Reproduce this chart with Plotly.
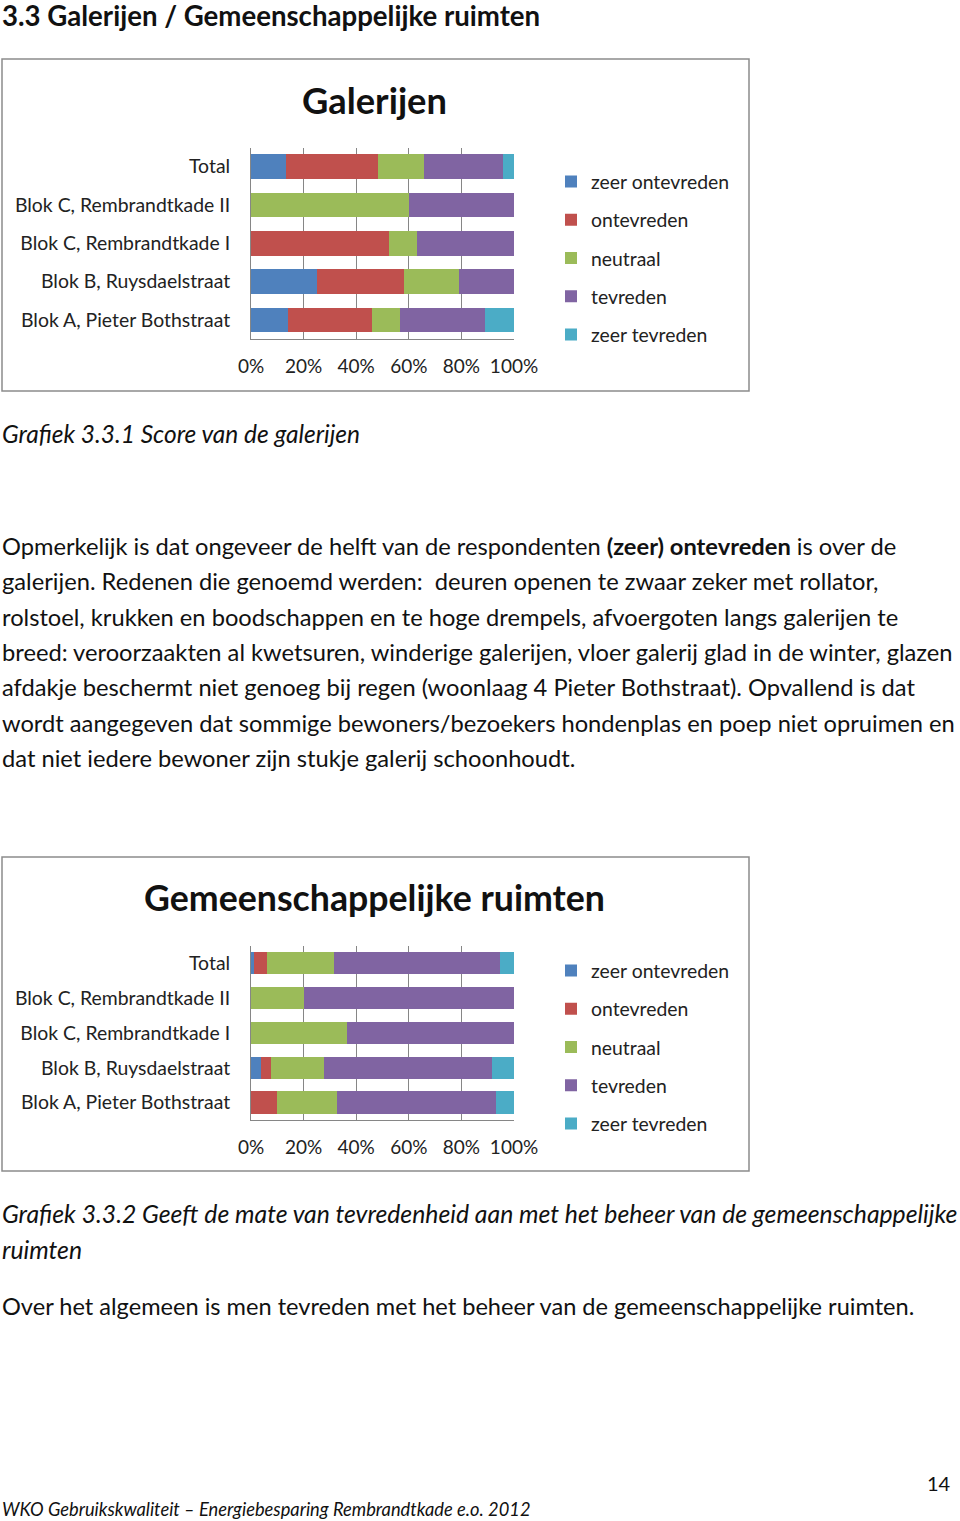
import plotly.graph_objects as go

# ---------------- data ----------------
categories = ["Total", "Blok C, Rembrandtkade II", "Blok C, Rembrandtkade I",
              "Blok B, Ruysdaelstraat", "Blok A, Pieter Bothstraat"]
series_names = ["zeer ontevreden", "ontevreden", "neutraal", "tevreden", "zeer tevreden"]
colors = ["#4F81BD", "#C0504D", "#9BBB59", "#8064A2", "#4BACC6"]

# Galerijen (percent per category, top to bottom)
gal_zeer_ontevreden = [13.2, 0.0, 0.0, 25.0, 14.2]
gal_ontevreden = [35.1, 0.0, 52.6, 33.0, 31.8]
gal_neutraal = [17.4, 60.0, 10.5, 21.0, 10.8]
gal_tevreden = [30.2, 40.0, 36.9, 21.0, 32.3]
gal_zeer_tevreden = [4.1, 0.0, 0.0, 0.0, 10.9]

# Gemeenschappelijke ruimten
gem_zeer_ontevreden = [1.3, 0.0, 0.0, 3.8, 0.0]
gem_ontevreden = [4.8, 0.0, 0.0, 3.9, 9.9]
gem_neutraal = [25.3, 20.0, 36.5, 19.9, 22.9]
gem_tevreden = [63.3, 80.0, 63.5, 64.0, 60.2]
gem_zeer_tevreden = [5.3, 0.0, 0.0, 8.4, 7.0]

tick_vals = [0, 20, 40, 60, 80, 100]
tick_text = ["0%", "20%", "40%", "60%", "80%", "100%"]

W, H = 960, 1521
FONT = "Lato"


def px(x):
    return x / W


def py(y):
    return 1 - y / H


fig = go.Figure()

gal = [gal_zeer_ontevreden, gal_ontevreden, gal_neutraal, gal_tevreden, gal_zeer_tevreden]
gem = [gem_zeer_ontevreden, gem_ontevreden, gem_neutraal, gem_tevreden, gem_zeer_tevreden]

for i, (name, vals) in enumerate(zip(series_names, gal)):
    fig.add_trace(go.Bar(y=categories, x=vals, name=name, orientation="h",
                         marker=dict(color=colors[i], line=dict(width=0)),
                         xaxis="x", yaxis="y", legend="legend", legendgroup="g1_" + str(i),
                         hoverinfo="skip"))
for i, (name, vals) in enumerate(zip(series_names, gem)):
    fig.add_trace(go.Bar(y=categories, x=vals, name=name, orientation="h",
                         marker=dict(color=colors[i], line=dict(width=0)),
                         xaxis="x2", yaxis="y2", legend="legend2", legendgroup="g2_" + str(i),
                         hoverinfo="skip"))

axis_common_x = dict(range=[0, 100], tickvals=tick_vals, ticktext=tick_text,
                     showgrid=True, gridcolor="#868686", gridwidth=1,
                     showline=True, linecolor="#868686", linewidth=1,
                     ticks="outside", ticklen=10, tickcolor="rgba(0,0,0,0)",
                     tickfont=dict(family=FONT, size=19, color="#222"), zeroline=False,
                     fixedrange=True, automargin=False)
axis_common_y = dict(type="category", autorange="reversed",
                     showline=True, linecolor="#868686", linewidth=1,
                     ticks="outside", ticklen=16, tickcolor="rgba(0,0,0,0)",
                     tickfont=dict(family=FONT, size=19.4, color="#222"),
                     showgrid=False, fixedrange=True, automargin=False)

legend_common = dict(font=dict(family=FONT, size=19.4, color="#222"), bgcolor="rgba(0,0,0,0)",
                     traceorder="grouped", tracegroupgap=10, xanchor="left", yanchor="top",
                     itemwidth=30)

fig.update_layout(
    width=W, height=H, margin=dict(l=0, r=0, t=0, b=0, autoexpand=False),
    paper_bgcolor="white", plot_bgcolor="white",
    barmode="stack", bargap=0.36, showlegend=True,
    xaxis=dict(domain=[px(251), px(514)], anchor="y", **axis_common_x),
    yaxis=dict(domain=[py(339.2), py(147.5)], anchor="x", **axis_common_y),
    xaxis2=dict(domain=[px(251), px(514)], anchor="y2", **axis_common_x),
    yaxis2=dict(domain=[py(1120), py(945.8)], anchor="x2", **axis_common_y),
    legend=dict(x=px(551), y=py(162.5), **legend_common),
    legend2=dict(x=px(551), y=py(951.5), **legend_common),
)

# chart frames
for (y0, y1) in [(59, 391), (857, 1171)]:
    fig.add_shape(type="rect", xref="paper", yref="paper",
                  x0=px(2), x1=px(749), y0=py(y1), y1=py(y0),
                  line=dict(color="#8C8C8C", width=1.5), fillcolor="rgba(0,0,0,0)", layer="below")


def text(x, y, s, size, bold=False, italic=False, xanchor="left"):
    if bold:
        s = "<b>" + s + "</b>"
    if italic:
        s = "<i>" + s + "</i>"
    fig.add_annotation(x=px(x), y=py(y), xref="paper", yref="paper", text=s,
                       showarrow=False, xanchor=xanchor, yanchor="middle",
                       font=dict(family=FONT, size=size, color="#111"))


text(0, 15, "3.3 Galerijen / Gemeenschappelijke ruimten", 27.6, bold=True)
text(374, 100, "Galerijen", 36.3, bold=True, xanchor="center")
text(374, 897, "Gemeenschappelijke ruimten", 35.7, bold=True, xanchor="center")
text(0, 433, "Grafiek 3.3.1 Score van de galerijen", 24.5, italic=True)

para = [
    "Opmerkelijk is dat ongeveer de helft van de respondenten <b>(zeer) ontevreden</b> is over de",
    "galerijen. Redenen die genoemd werden:\u00a0 deuren openen te zwaar zeker met rollator,",
    "rolstoel, krukken en boodschappen en te hoge drempels, afvoergoten langs galerijen te",
    "breed: veroorzaakten al kwetsuren, winderige galerijen, vloer galerij glad in de winter, glazen",
    "afdakje beschermt niet genoeg bij regen (woonlaag 4 Pieter Bothstraat). Opvallend is dat",
    "wordt aangegeven dat sommige bewoners/bezoekers hondenplas en poep niet opruimen en",
    "dat niet iedere bewoner zijn stukje galerij schoonhoudt.",
]
for i, line in enumerate(para):
    text(0, 546 + i * 35.3, line, 23.7)

text(0, 1213, "Grafiek 3.3.2 Geeft de mate van tevredenheid aan met het beheer van de gemeenschappelijke", 24.75, italic=True)
text(0, 1249, "ruimten", 24.75, italic=True)
text(0, 1306, "Over het algemeen is men tevreden met het beheer van de gemeenschappelijke ruimten.", 23.6)
text(953, 1483, "14", 20, xanchor="right")
text(0, 1509, "WKO Gebruikskwaliteit \u2013 Energiebesparing Rembrandtkade e.o. 2012", 18.3, italic=True)

fig.write_html("out.html")
